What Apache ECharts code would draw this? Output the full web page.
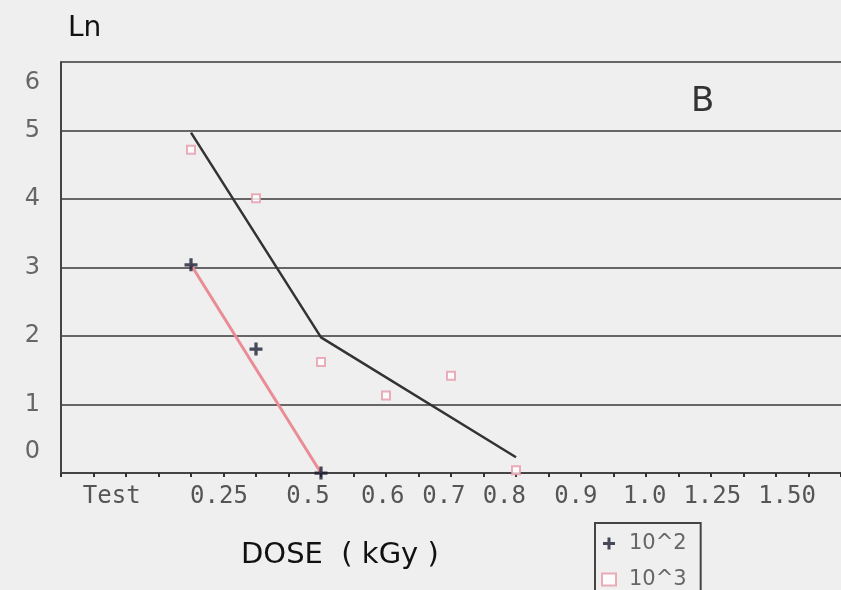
<!DOCTYPE html>
<html>
<head>
<meta charset="utf-8">
<script src="https://cdn.jsdelivr.net/npm/echarts@6/dist/echarts.min.js"></script>
<style>
html,body{margin:0;padding:0;background:#efefef;}
#chart{width:841px;height:590px;}
</style>
</head>
<body>
<div id="chart"></div>
<script>
// x is the slot on the dose axis (one slot per dose step)
var doseLabels = ['Test', '0.25', '0.5', '0.6', '0.7', '0.8', '0.9', '1.0', '1.25', '1.50'];
var labelSlots = [0.78, 2.43, 3.8, 4.95, 5.89, 6.82, 7.92, 8.98, 10.02, 11.17];

var cross102 = [[2, 3.04], [3, 1.81], [4, 0]];
var square103 = [[2, 4.72], [3, 4.01], [4, 1.62], [5, 1.13], [6, 1.42], [7, 0.04]];
var fit102 = [[2, 3.04], [4, 0]];
var fit103 = [[2, 4.97], [4, 1.98], [7, 0.23]];

var plus = 'path://M4.5,0H7.5V4.5H12V7.5H7.5V12H4.5V7.5H0V4.5H4.5Z';

var myChart = echarts.init(document.getElementById('chart'));
var option = {
	backgroundColor: '#efefef',
	animation: false,
	title: [
		{text: 'Ln', left: 63, top: 10, textStyle: {fontFamily: 'DejaVu Sans', fontSize: 28, fontWeight: 'normal', color: '#111'}},
		{text: 'B', left: 686, top: 80, textStyle: {fontFamily: 'DejaVu Sans', fontSize: 34, fontWeight: 'normal', color: '#333'}},
		{text: 'DOSE  ( kGy )', left: 236, top: 536, textStyle: {fontFamily: 'DejaVu Sans', fontSize: 29, fontWeight: 'normal', color: '#111'}}
	],
	grid: {left: 61, top: 62, right: 0, bottom: 117},
	legend: {
		orient: 'vertical',
		left: 595, top: 523,
		width: 100, height: 80,
		padding: [10, 14, 12, 6],
		itemGap: 15,
		itemWidth: 14, itemHeight: 12,
		borderColor: '#444', borderWidth: 2,
		data: ['10^2', '10^3'],
		textStyle: {fontFamily: 'DejaVu Sans', fontSize: 21, color: '#666', padding: [0, 0, 0, 8]}
	},
	xAxis: {
		type: 'value',
		min: 0, max: 12, interval: 0.5,
		axisLine: {lineStyle: {color: '#444', width: 2}},
		axisTick: {show: true, length: 4, lineStyle: {color: '#333', width: 2}},
		splitLine: {show: false},
		axisLabel: {
			customValues: labelSlots,
			margin: 12,
			fontFamily: 'DejaVu Sans Mono',
			fontSize: 24,
			color: '#555',
			formatter: function (v) {
				for (var i = 0; i < labelSlots.length; i++) {
					if (Math.abs(labelSlots[i] - v) < 0.001) return doseLabels[i];
				}
				return '';
			}
		}
	},
	yAxis: {
		type: 'value',
		min: 0, max: 6, interval: 1,
		axisLine: {show: true, lineStyle: {color: '#444', width: 2}},
		axisTick: {show: false},
		splitLine: {lineStyle: {color: '#666', width: 2}},
		axisLabel: {
			margin: 21,
			fontFamily: 'DejaVu Sans',
			fontSize: 24,
			color: '#666',
			formatter: function (v) {
				if (v === 6) return '{lo|6}';
				if (v === 0) return '{hi|0}';
				return '{n|' + v + '}';
			},
			rich: {
				lo: {fontSize: 24, color: '#666', lineHeight: 66, verticalAlign: 'bottom'},
				hi: {fontSize: 24, color: '#666', lineHeight: 66, verticalAlign: 'top'},
				n: {fontSize: 24, color: '#666'}
			}
		}
	},
	series: [
		{
			name: 'fit103', type: 'line', data: fit103, symbol: 'none',
			lineStyle: {color: '#333', width: 2.5}, z: 2
		},
		{
			name: 'fit102', type: 'line', data: fit102, symbol: 'none',
			lineStyle: {color: '#ea8c96', width: 3}, z: 2
		},
		{
			name: '10^2', type: 'scatter', data: cross102, symbol: plus, symbolSize: 13,
			itemStyle: {color: '#1c1f33'}, z: 4
		},
		{
			name: '10^3', type: 'scatter', data: square103, symbol: 'emptyRect', symbolSize: 8,
			itemStyle: {color: '#e79aaa', borderWidth: 1.5}, z: 3
		}
	]
};
myChart.setOption(option);
</script>
</body>
</html>
